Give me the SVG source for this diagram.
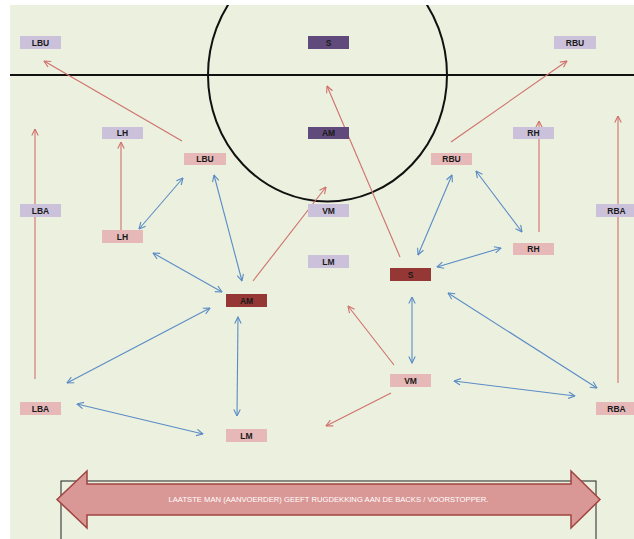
<svg xmlns="http://www.w3.org/2000/svg" width="634" height="539" viewBox="0 0 634 539">
<defs>
<style>
.lav{fill:#CCC1DA}
.dp{fill:#604A7B}
.pk{fill:#E6B9B8}
.dr{fill:#953735}
.lbl{font-family:"Liberation Sans",Arial,sans-serif;font-size:8.5px;font-weight:bold;fill:#1A1A1A;text-anchor:middle}
.red{stroke:#D0706D;stroke-width:1.1;fill:none;marker-end:url(#ar)}
.blue{stroke:#5B8BC6;stroke-width:1.1;fill:none;marker-end:url(#ab);marker-start:url(#ab)}
</style>
<marker id="ar" viewBox="0 0 8 8" refX="7.5" refY="4" markerWidth="8" markerHeight="8" markerUnits="userSpaceOnUse" orient="auto-start-reverse">
<path d="M1,0.8 L7.5,4 L1,7.2" fill="none" stroke="#D0706D" stroke-width="1.1"/>
</marker>
<marker id="ab" viewBox="0 0 8 8" refX="7.5" refY="4" markerWidth="8" markerHeight="8" markerUnits="userSpaceOnUse" orient="auto-start-reverse">
<path d="M1,0.8 L7.5,4 L1,7.2" fill="none" stroke="#5B8BC6" stroke-width="1.1"/>
</marker>
<clipPath id="field"><rect x="10" y="5" width="624" height="534"/></clipPath>
</defs>
<rect x="0" y="0" width="634" height="539" fill="#FFFFFF"/>
<rect x="10" y="5" width="624" height="534" fill="#EBF1DE"/>
<g id="pitch" clip-path="url(#field)">
<line x1="10" y1="75" x2="634" y2="75" stroke="#111" stroke-width="2"/>
<ellipse cx="327.5" cy="75" rx="119.5" ry="126.5" fill="none" stroke="#111" stroke-width="2"/>
</g>
<g id="connectors">
<line class="red" x1="182" y1="141" x2="44" y2="61"/>
<line class="red" x1="121" y1="230" x2="121" y2="142"/>
<line class="red" x1="35" y1="379" x2="35" y2="129"/>
<line class="red" x1="253" y1="281" x2="326" y2="187"/>
<line class="red" x1="400" y1="257" x2="327" y2="86"/>
<line class="red" x1="451" y1="142" x2="567" y2="61"/>
<line class="red" x1="539" y1="232" x2="539" y2="121"/>
<line class="red" x1="618" y1="383" x2="618" y2="116"/>
<line class="red" x1="394" y1="365" x2="348" y2="306"/>
<line class="red" x1="391" y1="393" x2="326" y2="426"/>
<line class="blue" x1="139" y1="229" x2="183" y2="178"/>
<line class="blue" x1="214" y1="175" x2="242" y2="281"/>
<line class="blue" x1="153" y1="253" x2="222" y2="292"/>
<line class="blue" x1="210" y1="308" x2="67" y2="383"/>
<line class="blue" x1="238" y1="317" x2="237" y2="416"/>
<line class="blue" x1="77" y1="404" x2="203" y2="434"/>
<line class="blue" x1="452" y1="175" x2="418" y2="255"/>
<line class="blue" x1="476" y1="171" x2="522" y2="232"/>
<line class="blue" x1="437" y1="267" x2="501" y2="248"/>
<line class="blue" x1="412" y1="297" x2="412" y2="363"/>
<line class="blue" x1="448" y1="293" x2="597" y2="388"/>
<line class="blue" x1="454" y1="381" x2="575" y2="396"/>
</g>
<g id="n-lbu-top"><rect class="lav" x="20" y="36" width="41" height="13"/><text class="lbl" x="40.5" y="45.8">LBU</text></g>
<g id="n-s-top"><rect class="dp" x="308" y="36" width="41" height="13"/><text class="lbl" x="328.5" y="45.8">S</text></g>
<g id="n-rbu-top"><rect class="lav" x="554" y="36" width="42" height="13"/><text class="lbl" x="575" y="45.8">RBU</text></g>
<g id="n-lh-top"><rect class="lav" x="102" y="127" width="41" height="12"/><text class="lbl" x="122.5" y="136.3">LH</text></g>
<g id="n-am-top"><rect class="dp" x="308" y="127" width="41" height="12"/><text class="lbl" x="328.5" y="136.3">AM</text></g>
<g id="n-rh-top"><rect class="lav" x="513" y="127" width="41" height="12"/><text class="lbl" x="533.5" y="136.3">RH</text></g>
<g id="n-lbu"><rect class="pk" x="184" y="153" width="42" height="12"/><text class="lbl" x="205" y="162.3">LBU</text></g>
<g id="n-rbu"><rect class="pk" x="431" y="153" width="41" height="12"/><text class="lbl" x="451.5" y="162.3">RBU</text></g>
<g id="n-lba-top"><rect class="lav" x="20" y="204" width="41" height="13"/><text class="lbl" x="40.5" y="213.8">LBA</text></g>
<g id="n-vm-top"><rect class="lav" x="308" y="204" width="41" height="13"/><text class="lbl" x="328.5" y="213.8">VM</text></g>
<g id="n-rba-top"><rect class="lav" x="596" y="204" width="41" height="13"/><text class="lbl" x="616.5" y="213.8">RBA</text></g>
<g id="n-lh"><rect class="pk" x="102" y="230" width="41" height="13"/><text class="lbl" x="122.5" y="239.8">LH</text></g>
<g id="n-rh"><rect class="pk" x="513" y="243" width="41" height="12"/><text class="lbl" x="533.5" y="252.3">RH</text></g>
<g id="n-lm-top"><rect class="lav" x="308" y="255" width="41" height="13"/><text class="lbl" x="328.5" y="264.8">LM</text></g>
<g id="n-s"><rect class="dr" x="390" y="268" width="41" height="13"/><text class="lbl" x="410.5" y="277.8">S</text></g>
<g id="n-am"><rect class="dr" x="226" y="294" width="41" height="13"/><text class="lbl" x="246.5" y="303.8">AM</text></g>
<g id="n-vm"><rect class="pk" x="390" y="374" width="41" height="13"/><text class="lbl" x="410.5" y="383.8">VM</text></g>
<g id="n-lba"><rect class="pk" x="20" y="402" width="41" height="13"/><text class="lbl" x="40.5" y="411.8">LBA</text></g>
<g id="n-rba"><rect class="pk" x="596" y="402" width="41" height="13"/><text class="lbl" x="616.5" y="411.8">RBA</text></g>
<g id="n-lm"><rect class="pk" x="226" y="429" width="41" height="13"/><text class="lbl" x="246.5" y="438.8">LM</text></g>
<g id="banner">
<rect x="61" y="481" width="535" height="70" fill="none" stroke="#222" stroke-width="1"/>
<path d="M57,499.5 L87,471 L87,484 L571,484 L571,471 L600,499.5 L571,528 L571,515 L87,515 L87,528 Z" fill="#D99795" stroke="#A04441" stroke-width="1.5" stroke-linejoin="miter"/>
<text x="328.5" y="502" font-family="Liberation Sans,Arial,sans-serif" font-size="7px" fill="#FFFFFF" text-anchor="middle" textLength="320" lengthAdjust="spacingAndGlyphs">LAATSTE MAN (AANVOERDER)  GEEFT  RUGDEKKING AAN DE BACKS / VOORSTOPPER.</text>
</g>
</svg>
